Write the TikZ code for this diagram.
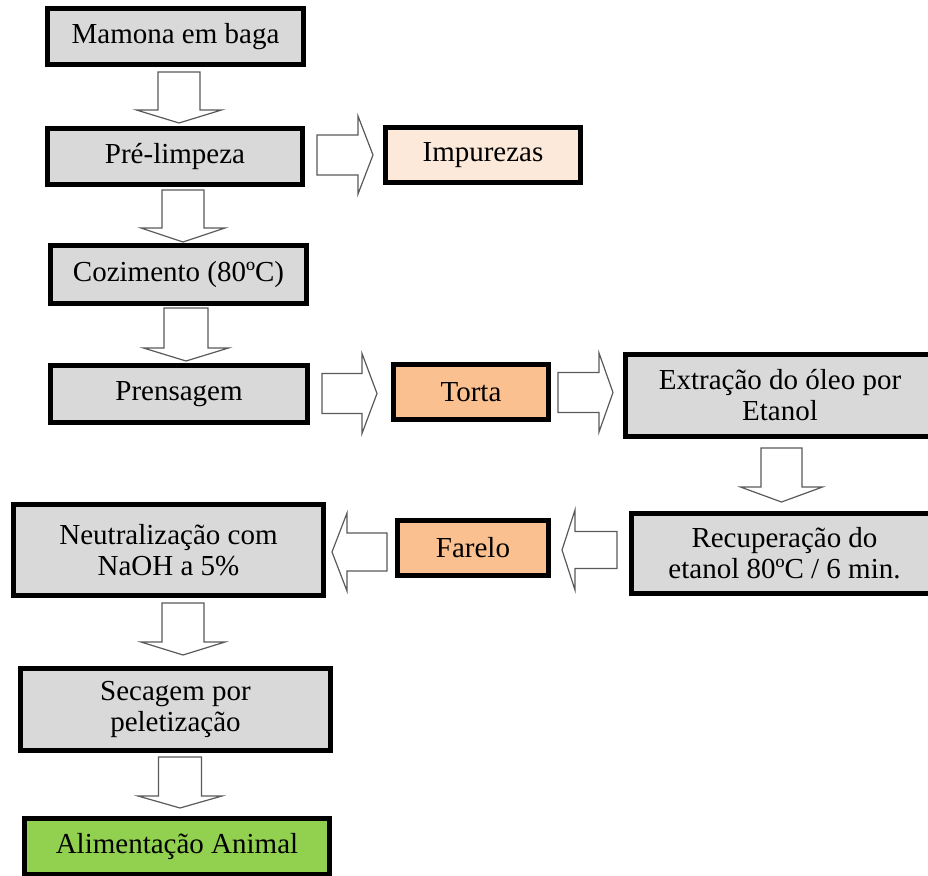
\documentclass[tikz,border=0pt]{standalone}
\usepackage{fontspec}
\setmainfont{Liberation Serif}
\usetikzlibrary{calc}
\definecolor{boxgray}{HTML}{D9D9D9}
\definecolor{torta}{HTML}{FAC08F}
\definecolor{impur}{HTML}{FDE9D9}
\definecolor{verde}{HTML}{92D050}
\definecolor{arrowline}{HTML}{5A5A5A}
\tikzset{
 procbox/.style={draw=black, line width=5pt, fill=boxgray, align=center, inner sep=0pt,
   font=\fontsize{29}{31}\selectfont, text=black},
 blockarr/.style={draw=arrowline, line width=1.2pt, fill=white, line join=miter},
}
% #1 start, #2 end (tip), #3 shaft half width, #4 head half width, #5 head length
\newcommand\blkarrow[5]{%
 \path (#1) coordinate (bs) (#2) coordinate (be);
 \path ($(be)!#5!(bs)$) coordinate (bh);
 \draw[blockarr] ($(bs)!#3!90:(be)$) -- ($(bh)!#3!90:(be)$) -- ($(bh)!#4!90:(be)$)
   -- (be) -- ($(bh)!#4!-90:(be)$) -- ($(bh)!#3!-90:(be)$) -- ($(bs)!#3!-90:(be)$) -- cycle;
}
\begin{document}
\begin{tikzpicture}[x=1pt,y=-1pt]
\useasboundingbox (0,0) rectangle (928,875);
\clip (0,0) rectangle (928,875);
\fill[white] (0,0) rectangle (928,875);
\node[procbox, minimum width=256pt, minimum height=56pt] (A) at (175.5,36.5) {Mamona em baga};
\node[procbox, minimum width=255pt, minimum height=56pt] (B) at (175,156.5) {Pré-limpeza};
\node[procbox, fill=impur, minimum width=195pt, minimum height=55pt] (C) at (483,155) {Impurezas};
\node[procbox, minimum width=256pt, minimum height=58pt] (D) at (178.5,274.5) {Cozimento (80ºC)};
\node[procbox, minimum width=257pt, minimum height=57pt] (E) at (179,394) {Prensagem};
\node[procbox, fill=torta, minimum width=155pt, minimum height=55pt] (F) at (471,392) {Torta};
\node[procbox, minimum width=309pt, minimum height=82pt] (G) at (780,395.5) {Extração do óleo por\\Etanol};
\node[procbox, minimum width=306pt, minimum height=80pt] (H) at (784.5,553.5) {Recuperação do\\etanol 80ºC / 6 min.};
\node[procbox, fill=torta, minimum width=151pt, minimum height=55pt] (I) at (473,548) {Farelo};
\node[procbox, minimum width=310pt, minimum height=91pt] (J) at (168.5,550) {Neutralização com\\NaOH a 5\%};
\node[procbox, minimum width=310pt, minimum height=82pt] (K) at (175.5,709.5) {Secagem por\\peletização};
\node[procbox, fill=verde, minimum width=305pt, minimum height=56pt] (L) at (177,846.5) {Alimentação Animal};

\blkarrow{$(A.south)+(3.5,5)$}{$(B.north)+(4,-3)$}{21pt}{42.5pt}{13pt}
\blkarrow{$(B.south)+(8,3)$}{$(D.north)+(4.5,-1)$}{21pt}{42pt}{14pt}
\blkarrow{$(B.east)+(12,-1.5)$}{$(C.west)+(-10,0)$}{20pt}{39pt}{15pt}
\blkarrow{$(D.south)+(7.5,2)$}{$(E.north)+(7,-2)$}{22pt}{42.5pt}{13pt}
\blkarrow{$(E.east)+(12,-0.5)$}{$(F.west)+(-14,1.5)$}{20pt}{40pt}{15pt}
\blkarrow{$(F.east)+(7,0.5)$}{$(G.west)+(-10,-3)$}{20pt}{39.5pt}{14pt}
\blkarrow{$(G.south)+(1.5,9)$}{$(H.north)+(-3,-9)$}{20.5pt}{41pt}{15pt}
\blkarrow{$(H.west)+(-12,-3.5)$}{$(I.east)+(11,2)$}{18.5pt}{40pt}{13pt}
\blkarrow{$(I.west)+(-8,4)$}{$(J.east)+(6,2)$}{19pt}{39pt}{15pt}
\blkarrow{$(J.south)+(14.5,5)$}{$(K.north)+(7.5,-11)$}{21pt}{42pt}{13pt}
\blkarrow{$(K.south)+(4.5,4)$}{$(L.north)+(3,-8)$}{21.5pt}{42pt}{12pt}
\end{tikzpicture}
\end{document}
